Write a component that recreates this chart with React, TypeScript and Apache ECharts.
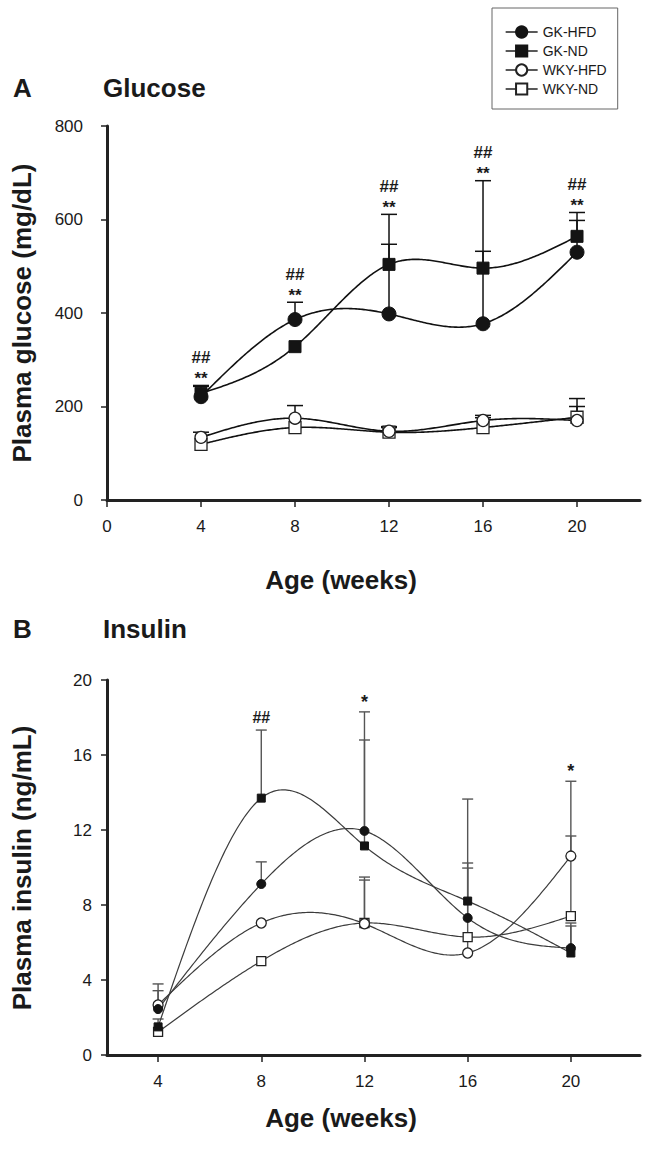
import React, { useEffect, useRef } from 'react';
import * as echarts from 'echarts';

const FONT = 'Liberation Sans, Arial, Helvetica, sans-serif';

const weeks = [4, 8, 12, 16, 20];
const seriesNames = ['GK-HFD', 'GK-ND', 'WKY-HFD', 'WKY-ND'];
const xTicksA = [0, 4, 8, 12, 16, 20];
const xTicksB = [4, 8, 12, 16, 20];

// Panel A: plasma glucose (mg/dL)
const glucoseGKHFD = [221, 386, 398, 377, 530];
const glucoseGKND = [228, 328, 504, 496, 564];
const glucoseWKYHFD = [134, 175, 147, 170, 170];
const glucoseWKYND = [119, 155, 145, 155, 177];
// upper error-bar ends
const glucoseErrGKHFD = [243, 423, 547, 683, 598];
const glucoseErrGKND = [245, null, 611, 532, 615];
const glucoseErrWKYHFD = [145, 202, 157, 181, 200];
const glucoseErrWKYND = [null, null, 155, 176, 217];
const glucoseMarks = ['##\n**', '##\n**', '##\n**', '##\n**', '##\n**'];

// Panel B: plasma insulin (ng/mL)
const insulinGKHFD = [2.45, 9.12, 11.95, 7.31, 5.7];
const insulinGKND = [1.5, 13.7, 11.15, 8.21, 5.44];
const insulinWKYHFD = [2.67, 7.04, 7.0, 5.44, 10.61];
const insulinWKYND = [1.23, 5.01, 7.04, 6.29, 7.41];
const insulinErrGKHFD = [3.43, 10.3, 16.8, 10.24, 7.04];
const insulinErrGKND = [1.92, 17.33, 18.3, 13.65, 6.88];
const insulinErrWKYHFD = [3.79, null, 9.49, 9.97, 14.6];
const insulinErrWKYND = [null, null, 9.33, null, 11.68];
const insulinMarks = ['', '##', '*', '', '*'];

const glucose = [glucoseGKHFD, glucoseGKND, glucoseWKYHFD, glucoseWKYND];
const glucoseErr = [glucoseErrGKHFD, glucoseErrGKND, glucoseErrWKYHFD, glucoseErrWKYND];
const insulin = [insulinGKHFD, insulinGKND, insulinWKYHFD, insulinWKYND];
const insulinErr = [insulinErrGKHFD, insulinErrGKND, insulinErrWKYHFD, insulinErrWKYND];

const INK = '#1a1a1a';

// natural cubic spline through (xs, ys), evaluated in data space
function naturalSpline(xs: number[], ys: number[]) {
  const n = xs.length;
  const h: number[] = [];
  for (let i = 0; i < n - 1; i++) h.push(xs[i + 1] - xs[i]);
  const M = new Array(n).fill(0);
  if (n > 2) {
    const a: number[] = [], b: number[] = [], c: number[] = [], d: number[] = [];
    for (let i = 1; i < n - 1; i++) {
      a.push(h[i - 1]);
      b.push(2 * (h[i - 1] + h[i]));
      c.push(h[i]);
      d.push(6 * ((ys[i + 1] - ys[i]) / h[i] - (ys[i] - ys[i - 1]) / h[i - 1]));
    }
    const m = b.length;
    for (let i = 1; i < m; i++) {
      const w = a[i] / b[i - 1];
      b[i] -= w * c[i - 1];
      d[i] -= w * d[i - 1];
    }
    const sol = new Array(m).fill(0);
    sol[m - 1] = d[m - 1] / b[m - 1];
    for (let i = m - 2; i >= 0; i--) sol[i] = (d[i] - c[i] * sol[i + 1]) / b[i];
    for (let i = 0; i < m; i++) M[i + 1] = sol[i];
  }
  return (x: number) => {
    let i = 0;
    while (i < n - 2 && x > xs[i + 1]) i++;
    const hi = h[i];
    const A = xs[i + 1] - x;
    const B = x - xs[i];
    return (
      (M[i] * A * A * A) / (6 * hi) +
      (M[i + 1] * B * B * B) / (6 * hi) +
      (ys[i] / hi - (M[i] * hi) / 6) * A +
      (ys[i + 1] / hi - (M[i + 1] * hi) / 6) * B
    );
  };
}

function buildOption() {
  const symbols = ['circle', 'rect', 'circle', 'rect'];
  const filled = [true, true, false, false];
  const sizesA = [14, 12, 12, 12];
  const sizesB = [9, 8, 10, 9];
  const order = [3, 2, 1, 0];

  const curveSeries = (panel: number) => {
    const vals = panel === 0 ? glucose : insulin;
    const lc = panel === 0 ? '#111' : '#3c3c3c';
    const lw = panel === 0 ? 1.6 : 1.2;
    return order.map((i) => {
      const f = naturalSpline(weeks, vals[i]);
      return {
        type: 'custom',
        xAxisIndex: panel,
        yAxisIndex: panel,
        silent: true,
        z: 3,
        data: weeks.map((w, j) => [w, vals[i][j]]),
        encode: { x: 0, y: 1 },
        renderItem: (params: any, api: any) => {
          if (params.dataIndex !== 0) return null;
          const pts: number[][] = [];
          const x0 = weeks[0];
          const x1 = weeks[weeks.length - 1];
          const steps = 240;
          for (let k = 0; k <= steps; k++) {
            const x = x0 + ((x1 - x0) * k) / steps;
            pts.push(api.coord([x, f(x)]));
          }
          return {
            type: 'polyline',
            shape: { points: pts },
            style: { stroke: lc, lineWidth: lw, fill: 'none' },
          };
        },
      };
    });
  };

  const markerSeries = (panel: number) => {
    const vals = panel === 0 ? glucose : insulin;
    const sizes = panel === 0 ? sizesA : sizesB;
    const lc = panel === 0 ? '#111' : '#3c3c3c';
    return order.map((i) => ({
      type: 'line',
      name: seriesNames[i],
      xAxisIndex: panel,
      yAxisIndex: panel,
      data: weeks.map((w, j) => [w, vals[i][j]]),
      symbol: symbols[i],
      symbolSize: sizes[i],
      showAllSymbol: true,
      lineStyle: { color: lc, width: 1.3, opacity: 0 },
      itemStyle: filled[i]
        ? { color: '#141414', borderColor: '#141414', borderWidth: 1 }
        : { color: '#ffffff', borderColor: '#222', borderWidth: 1.3 },
      emphasis: { disabled: true },
      silent: true,
      z: 4,
    }));
  };

  const errSeries = (panel: number) => {
    const vals = panel === 0 ? glucose : insulin;
    const errs = panel === 0 ? glucoseErr : insulinErr;
    const data: number[][] = [];
    for (let i = 0; i < 4; i++) {
      weeks.forEach((w, j) => {
        const e = errs[i][j];
        if (e !== null && e !== undefined) data.push([w, vals[i][j], e as number]);
      });
    }
    const color = panel === 0 ? '#111' : '#555';
    const half = panel === 0 ? 8 : 5.5;
    const lw = panel === 0 ? 1.5 : 1.4;
    return {
      type: 'custom',
      xAxisIndex: panel,
      yAxisIndex: panel,
      silent: true,
      z: 2,
      data,
      encode: { x: 0, y: [1, 2] },
      renderItem: (params: any, api: any) => {
        const x = api.value(0);
        const p0 = api.coord([x, api.value(1)]);
        const p1 = api.coord([x, api.value(2)]);
        const st = { stroke: color, lineWidth: lw };
        return {
          type: 'group',
          children: [
            { type: 'line', shape: { x1: p0[0], y1: p0[1], x2: p1[0], y2: p1[1] }, style: st },
            { type: 'line', shape: { x1: p1[0] - half, y1: p1[1], x2: p1[0] + half, y2: p1[1] }, style: st },
          ],
        };
      },
    };
  };

  const markSeries = (panel: number) => {
    const errs = panel === 0 ? glucoseErr : insulinErr;
    const marks = panel === 0 ? glucoseMarks : insulinMarks;
    const data: any[] = [];
    weeks.forEach((w, j) => {
      if (!marks[j]) return;
      let top = -Infinity;
      for (let i = 0; i < 4; i++) {
        const e = errs[i][j];
        if (e !== null && e !== undefined && e > top) top = e as number;
      }
      data.push({ value: [w, top], mark: marks[j] });
    });
    return {
      type: 'custom',
      xAxisIndex: panel,
      yAxisIndex: panel,
      silent: true,
      z: 5,
      data,
      encode: { x: 0, y: 1 },
      renderItem: (params: any, api: any) => {
        const p = api.coord([api.value(0), api.value(1)]);
        const txt: string = data[params.dataIndex].mark;
        const parts = txt.split('\n');
        const children: any[] = [];
        const st = (t: string, size: number) => ({
          text: t, textAlign: 'center', textVerticalAlign: 'middle', fontSize: size, fontWeight: 'bold', fontFamily: FONT, fill: INK,
        });
        if (panel === 0) {
          children.push({ type: 'text', x: p[0], y: p[1] - 28, style: st(parts[0], 17) });
          children.push({ type: 'text', x: p[0], y: p[1] - 7, style: st(parts[1], 17) });
        } else {
          const isHash = parts[0].indexOf('#') >= 0;
          children.push({ type: 'text', x: p[0], y: p[1] - (isHash ? 13 : 10), style: st(parts[0], isHash ? 16 : 18) });
        }
        return { type: 'group', children };
      },
    };
  };

  const axisCommon = {
    axisLine: { show: true, onZero: false, lineStyle: { color: '#222', width: 3 } },
    splitLine: { show: false },
  };

  const bigText = (text: string, x: number, y: number, align: string, rot = 0) => ({
    type: 'text',
    x,
    y,
    rotation: rot,
    silent: true,
    style: { text, textAlign: align, textVerticalAlign: 'middle', fontSize: 26, fontWeight: 'bold', fontFamily: FONT, fill: INK },
  });

  return {
    animation: false,
    textStyle: { fontFamily: FONT },
    legend: {
      orient: 'vertical',
      left: 492,
      top: 8,
      data: seriesNames,
      itemWidth: 32,
      itemHeight: 14,
      itemGap: 5,
      padding: [17, 11, 13, 13],
      borderColor: '#666',
      borderWidth: 1,
      selectedMode: false,
      lineStyle: { color: '#222', width: 1.3, opacity: 1 },
      textStyle: { fontSize: 14, color: INK, fontFamily: FONT },
    },
    grid: [
      { left: 107, top: 126, width: 533, height: 374 },
      { left: 107, top: 680, width: 533, height: 375 },
    ],
    xAxis: [
      {
        type: 'value', gridIndex: 0, min: 0, max: 22.68, interval: 4, ...axisCommon,
        axisTick: { show: true, customValues: xTicksA, length: 7, lineStyle: { color: '#222', width: 1.5 } },
        axisLabel: { customValues: xTicksA, fontSize: 17, color: INK, margin: 18, fontFamily: FONT },
      },
      {
        type: 'value', gridIndex: 1, min: 2.02, max: 22.68, interval: 4, ...axisCommon,
        axisTick: { show: true, customValues: xTicksB, length: 7, lineStyle: { color: '#222', width: 1.5 } },
        axisLabel: { customValues: xTicksB, fontSize: 17, color: INK, margin: 18, fontFamily: FONT },
      },
    ],
    yAxis: [
      {
        type: 'value', gridIndex: 0, min: 0, max: 800, interval: 200, ...axisCommon,
        axisTick: { show: true, length: 6, lineStyle: { color: '#222', width: 1.5 } },
        axisLabel: { fontSize: 17, color: INK, margin: 24, fontFamily: FONT },
      },
      {
        type: 'value', gridIndex: 1, min: 0, max: 20, interval: 4, ...axisCommon,
        axisTick: { show: true, length: 6, lineStyle: { color: '#222', width: 1.5 } },
        axisLabel: { fontSize: 17, color: INK, margin: 15, fontFamily: FONT },
      },
    ],
    graphic: [
      bigText('A', 13, 88, 'left'),
      bigText('Glucose', 103, 88, 'left'),
      bigText('B', 13, 629, 'left'),
      bigText('Insulin', 103, 629, 'left'),
      bigText('Age (weeks)', 341, 580, 'center'),
      bigText('Age (weeks)', 341, 1118, 'center'),
      bigText('Plasma glucose (mg/dL)', 22, 313, 'center', Math.PI / 2),
      bigText('Plasma insulin (ng/mL)', 22, 868, 'center', Math.PI / 2),
    ],
    series: [
      errSeries(0),
      errSeries(1),
      ...curveSeries(0),
      ...curveSeries(1),
      ...markerSeries(0),
      ...markerSeries(1),
      markSeries(0),
      markSeries(1),
    ],
  };
}

export default function App() {
  const ref = useRef<HTMLDivElement>(null);
  useEffect(() => {
    if (!ref.current) return;
    const chart = echarts.init(ref.current, undefined, { renderer: 'svg' });
    chart.setOption(buildOption() as any);
    return () => chart.dispose();
  }, []);
  return (
    <div
      ref={ref}
      style={{ position: 'fixed', left: 0, top: 0, width: 651, height: 1152, background: '#fff' }}
    />
  );
}
